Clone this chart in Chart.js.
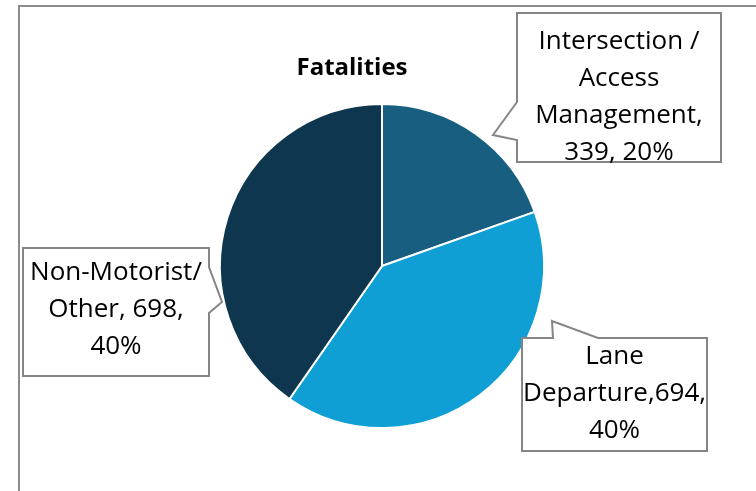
<!DOCTYPE html>
<html>
<head>
<meta charset="utf-8">
<script src="https://cdn.jsdelivr.net/npm/chart.js@4"></script>
<style>
  html,body{margin:0;padding:0;background:#fff;}
  #wrap{position:relative;width:756px;height:491px;}
  canvas{display:block;}
</style>
</head>
<body>
<div id="wrap"><canvas id="c" width="756" height="491"></canvas></div>
<script>
// ---- data ----
const categories = ["Intersection / Access Management", "Lane Departure", "Non-Motorist/Other"];
const fatalities = [339, 694, 698];
const sliceColors = ["#175E80", "#109FD4", "#0E374F"];
const chartTitle = "Fatalities";
// callout label lines; {v} = value, {p} = percent
const calloutLines = [
  ["Intersection /", "Access", "Management,", "{v}, {p}%"],
  ["Lane", "Departure,{v},", "{p}%"],
  ["Non-Motorist/", "Other, {v},", "{p}%"]
];

// ---- callout geometry (layout only) ----
const calloutBoxes = [
  {x: 517, y: 13, w: 204, h: 149, side: 'left',  a: 102, b: 140, tip: [493, 135], textY: 42},
  {x: 522, y: 338, w: 185, h: 113, side: 'top',  a: 553, b: 598, tip: [552, 321], textY: 357},
  {x: 23,  y: 248, w: 186, h: 128, side: 'right', a: 267, b: 313, tip: [222, 302], textY: 273}
];
const FONT = "'Open Sans', sans-serif";

const calloutPlugin = {
  id: 'callouts',
  beforeDraw(chart) {
    const ctx = chart.ctx;
    ctx.save();
    ctx.strokeStyle = '#8c8c8c';
    ctx.lineWidth = 2;
    ctx.beginPath();
    ctx.moveTo(19, 491);
    ctx.lineTo(19, 6);
    ctx.lineTo(756, 6);
    ctx.stroke();
    ctx.restore();
  },
  afterDraw(chart) {
    const ctx = chart.ctx;
    const data = chart.data.datasets[0].data;
    const total = data.reduce((s, v) => s + v, 0);
    ctx.save();
    ctx.fillStyle = '#000';
    ctx.font = "bold 24px " + FONT;
    ctx.textAlign = 'center';
    ctx.textBaseline = 'middle';
    ctx.fillText(chartTitle, 352, 68);

    calloutBoxes.forEach((bx, i) => {
      const {x, y, w, h, side, a, b, tip} = bx;
      ctx.beginPath();
      ctx.moveTo(x, y);
      if (side === 'top') {
        ctx.lineTo(a, y); ctx.lineTo(tip[0], tip[1]); ctx.lineTo(b, y);
      }
      ctx.lineTo(x + w, y);
      if (side === 'right') {
        ctx.lineTo(x + w, a); ctx.lineTo(tip[0], tip[1]); ctx.lineTo(x + w, b);
      }
      ctx.lineTo(x + w, y + h);
      ctx.lineTo(x, y + h);
      if (side === 'left') {
        ctx.lineTo(x, b); ctx.lineTo(tip[0], tip[1]); ctx.lineTo(x, a);
      }
      ctx.closePath();
      ctx.fillStyle = '#fff';
      ctx.fill();
      ctx.strokeStyle = '#858585';
      ctx.lineWidth = 2;
      ctx.stroke();

      const v = data[i];
      const p = Math.round(v / total * 100);
      ctx.fillStyle = '#000';
      ctx.font = "26px " + FONT;
      ctx.textAlign = 'center';
      ctx.textBaseline = 'middle';
      calloutLines[i].forEach((ln, j) => {
        const t = ln.replace('{v}', v).replace('{p}', p);
        ctx.fillText(t, x + w / 2, bx.textY + j * 37);
      });
    });
    ctx.restore();
  }
};

new Chart(document.getElementById('c'), {
  type: 'pie',
  data: {
    labels: categories,
    datasets: [{
      data: fatalities,
      backgroundColor: sliceColors,
      borderColor: '#ffffff',
      borderWidth: 2,
      radius: 162
    }]
  },
  options: {
    responsive: false,
    animation: false,
    layout: {padding: {left: 108, right: 100, top: 100, bottom: 59}},
    plugins: {
      legend: {display: false},
      tooltip: {enabled: false},
      title: {display: false}
    }
  },
  plugins: [calloutPlugin]
});
</script>
</body>
</html>
